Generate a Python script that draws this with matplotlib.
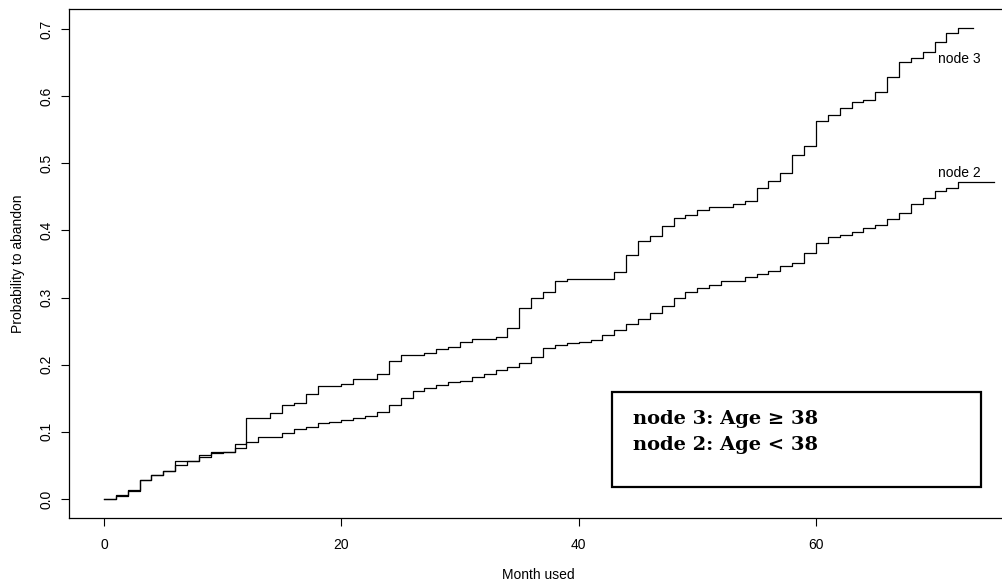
import numpy as np
import matplotlib.pyplot as plt
from matplotlib.patches import Rectangle

months_node3 = list(range(0, 73)) + [73.2]
prob_node3 = [0.000, 0.004, 0.012, 0.028, 0.035, 0.042, 0.057, 0.057, 0.062, 0.068,
              0.070, 0.076, 0.120, 0.120, 0.128, 0.140, 0.143, 0.156, 0.169, 0.169,
              0.171, 0.179, 0.179, 0.186, 0.206, 0.214, 0.214, 0.218, 0.223, 0.227,
              0.234, 0.239, 0.239, 0.241, 0.255, 0.284, 0.300, 0.308, 0.324, 0.328,
              0.328, 0.328, 0.328, 0.338, 0.363, 0.384, 0.392, 0.407, 0.418, 0.423,
              0.431, 0.435, 0.435, 0.440, 0.444, 0.463, 0.473, 0.486, 0.512, 0.526,
              0.563, 0.572, 0.582, 0.591, 0.594, 0.606, 0.628, 0.651, 0.657, 0.666,
              0.681, 0.694, 0.701, 0.701]

months_node2 = list(range(0, 74)) + [75.0]
prob_node2 = [0.000, 0.006, 0.013, 0.028, 0.035, 0.042, 0.050, 0.057, 0.065, 0.070,
              0.070, 0.082, 0.085, 0.092, 0.092, 0.098, 0.104, 0.107, 0.113, 0.114,
              0.117, 0.120, 0.124, 0.130, 0.140, 0.150, 0.161, 0.165, 0.170, 0.174,
              0.176, 0.182, 0.186, 0.192, 0.196, 0.202, 0.212, 0.225, 0.230, 0.232,
              0.234, 0.237, 0.245, 0.252, 0.260, 0.268, 0.277, 0.287, 0.299, 0.308,
              0.315, 0.319, 0.324, 0.324, 0.331, 0.335, 0.339, 0.347, 0.351, 0.366,
              0.381, 0.390, 0.393, 0.398, 0.403, 0.408, 0.417, 0.4255, 0.440, 0.449,
              0.458, 0.463, 0.472, 0.472, 0.472]

x_ticks = [0, 20, 40, 60]
y_ticks = [0.0, 0.1, 0.2, 0.3, 0.4, 0.5, 0.6, 0.7]

plt.rcParams['font.family'] = ['Liberation Sans', 'DejaVu Sans']

fig = plt.figure(figsize=(10.02, 5.87), dpi=100)
# axes box runs past the right edge of the image, like the original crop
ax = fig.add_axes([69 / 1002, 1 - 518 / 587, (1007 - 69) / 1002, (518 - 9) / 587])

ax.step(months_node3, prob_node3, where='post', color='black', lw=0.9)
ax.step(months_node2, prob_node2, where='post', color='black', lw=0.9)

ax.text(72.1, 0.655, 'node 3', ha='center', va='center', fontsize=10)
ax.text(72.1, 0.4855, 'node 2', ha='center', va='center', fontsize=10)

# legend-like box
ax.add_patch(Rectangle((42.8, 0.018), 31.1, 0.141, fill=False, edgecolor='black', lw=1.6))
ax.text(44.6, 0.119, 'node 3: Age \u2265 38', fontsize=14, fontweight='bold',
        family=['DejaVu Serif'], va='center', ha='left')
ax.text(44.6, 0.080, 'node 2: Age < 38', fontsize=14, fontweight='bold',
        family=['DejaVu Serif'], va='center', ha='left')

ax.set_xlim(-2.95, 76.1)
ax.set_ylim(-0.0283, 0.7298)
ax.set_xticks(x_ticks)
ax.set_xticklabels([str(t) for t in x_ticks])
ax.set_yticks(y_ticks)
ax.set_yticklabels(['%.1f' % t for t in y_ticks], rotation=90, va='center')

ax.tick_params(axis='x', direction='out', length=5.5, width=0.8, labelsize=10, pad=9)
ax.tick_params(axis='y', direction='out', length=5.5, width=0.8, labelsize=10, pad=6)
for s in ax.spines.values():
    s.set_linewidth(0.9)

ax.set_xlabel('Month used', fontsize=10)
ax.set_ylabel('Probability to abandon', fontsize=10)
ax.xaxis.set_label_coords((538 - 69) / 938, -(575 - 518) / 509)
ax.xaxis.label.set_va('center')
ax.yaxis.set_label_coords(-(69 - 18) / 938, 0.5)
ax.yaxis.label.set_va('center')

fig.savefig('out.png', dpi=100)
